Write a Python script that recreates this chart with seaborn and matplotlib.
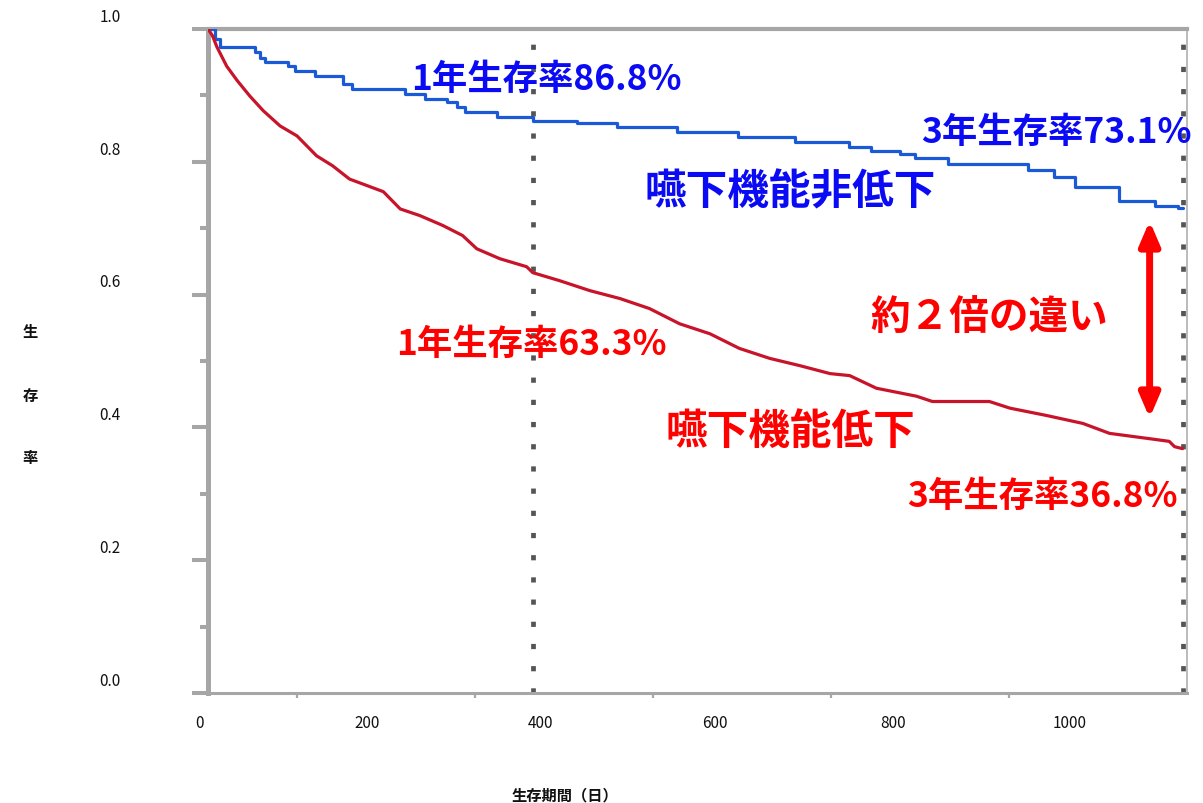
import matplotlib
matplotlib.use("Agg")
import matplotlib.pyplot as plt
import seaborn as sns
import pandas as pd

# ---------------- data ----------------
blue_days = [0, 8, 13, 53, 58, 64, 90, 98, 120, 152, 162, 221, 244, 268, 280, 289, 325,
             365, 415, 460, 527, 595, 660, 720, 745, 777, 794, 831, 921, 951, 974, 1024,
             1064, 1090, 1095]
blue_surv = [1.0, 0.985, 0.973, 0.965, 0.957, 0.950, 0.944, 0.937, 0.929, 0.917, 0.910,
             0.902, 0.895, 0.890, 0.883, 0.875, 0.868, 0.862, 0.858, 0.853, 0.845, 0.838,
             0.830, 0.822, 0.817, 0.812, 0.805, 0.797, 0.787, 0.777, 0.762, 0.741, 0.734,
             0.731, 0.731]

red_days = [0, 5, 10, 21, 33, 47, 62, 81, 100, 122, 140, 159, 179, 197, 216, 238, 264,
            286, 302, 328, 358, 365, 395, 429, 463, 496, 530, 564, 597, 631, 665, 699,
            721, 751, 796, 814, 878, 901, 942, 983, 1013, 1058, 1080, 1086, 1095]
red_surv = [1.0, 0.99, 0.973, 0.944, 0.922, 0.899, 0.877, 0.854, 0.839, 0.809, 0.794,
            0.774, 0.764, 0.755, 0.729, 0.719, 0.704, 0.689, 0.669, 0.654, 0.642, 0.633,
            0.621, 0.606, 0.594, 0.579, 0.556, 0.541, 0.519, 0.504, 0.493, 0.481, 0.478,
            0.459, 0.447, 0.439, 0.439, 0.429, 0.418, 0.406, 0.391, 0.383, 0.379, 0.371,
            0.368]

y_tick_values = [0.0, 0.2, 0.4, 0.6, 0.8, 1.0]
y_tick_labels = ["0.0", "0.2", "0.4", "0.6", "0.8", "1.0"]
x_label_positions = [-9, 179, 374, 570, 770, 968]
x_label_texts = ["0", "200", "400", "600", "800", "1000"]
x_minor_ticks = [100, 300, 500, 700, 900]
year_marks = [365, 1095]

df_blue = pd.DataFrame({"day": blue_days, "surv": blue_surv})
df_red = pd.DataFrame({"day": red_days, "surv": red_surv})

# ---------------- style ----------------
sns.set_style("white")
plt.rcParams["font.family"] = ["Noto Sans CJK JP", "DejaVu Sans"]

fig = plt.figure(figsize=(12.03, 8.04), dpi=100)
ax = fig.add_axes([0.1729, 0.1368, 0.8138, 0.8259])

BLUE_LINE = "#1a5ad7"
RED_LINE = "#c8142a"
BLUE_TXT = "#0a0af5"
RED_TXT = "#ff0000"
GRAY = "#a6a6a6"

for d in year_marks:
    ax.axvline(d, color="#555555", lw=3.4, linestyle=(0, (1.1, 3.6)),
               dash_capstyle="butt", zorder=1)

sns.lineplot(data=df_blue, x="day", y="surv", ax=ax, color=BLUE_LINE, lw=2.3,
             drawstyle="steps-post", zorder=3)
sns.lineplot(data=df_red, x="day", y="surv", ax=ax, color=RED_LINE, lw=2.3, zorder=3)

ax.set_xlim(0, 1100)
ax.set_ylim(0, 1.0)
ax.set_xlabel("")
ax.set_ylabel("")

# spines
for side, lw in [("left", 3.6), ("top", 3.0), ("bottom", 2.2), ("right", 1.3)]:
    ax.spines[side].set_visible(True)
    ax.spines[side].set_color(GRAY)
    ax.spines[side].set_linewidth(lw)
ax.spines["right"].set_color("#b5b5b5")

# y ticks
ax.set_yticks(y_tick_values)
ax.set_yticklabels([])
ax.set_yticks([0.1, 0.3, 0.5, 0.7, 0.9], minor=True)
ax.tick_params(axis="y", which="major", length=11.5, width=2.9, color=GRAY, direction="out", left=True)
ax.tick_params(axis="y", which="minor", length=5.8, width=2.9, color=GRAY, direction="out", left=True)

# x ticks
ax.set_xticks(x_minor_ticks)
ax.set_xticklabels([])
ax.tick_params(axis="x", which="major", length=3.6, width=1.6, color=GRAY, direction="out", bottom=True)

# tick labels placed where they appear in the reference
ytr = ax.get_yaxis_transform()
for v, lab in zip(y_tick_values, y_tick_labels):
    ax.text(-0.100, v + 0.019, lab, transform=ytr, ha="center", va="center",
            fontsize=11, color="#111111", clip_on=False)
xtr = ax.get_xaxis_transform()
for p, lab in zip(x_label_positions, x_label_texts):
    ax.text(p, -0.045, lab, transform=xtr, ha="center", va="center",
            fontsize=11, color="#111111", clip_on=False)

# axis titles
fig.text(0.4697, 0.011, "生存期間（日）", ha="center", va="center", fontsize=11,
         fontweight="bold", color="#111111")
for ch, yy in zip(["生", "存", "率"], [0.587, 0.507, 0.430]):
    fig.text(0.025, yy, ch, ha="center", va="center", fontsize=11,
             fontweight="bold", color="#111111")

# annotations
big = dict(fontweight="bold", ha="center", va="center", clip_on=False, zorder=5)
ax.text(380, 0.925, "1年生存率86.8%", color=BLUE_TXT, fontsize=25.5, **big)
ax.text(953, 0.845, "3年生存率73.1%", color=BLUE_TXT, fontsize=25.5, **big)
ax.text(654, 0.755, "嚥下機能非低下", color=BLUE_TXT, fontsize=30, **big)
ax.text(878, 0.567, "約２倍の違い", color=RED_TXT, fontsize=28.5, **big)
ax.text(363, 0.526, "1年生存率63.3%", color=RED_TXT, fontsize=25.5, **big)
ax.text(654, 0.394, "嚥下機能低下", color=RED_TXT, fontsize=30, **big)
ax.text(938, 0.298, "3年生存率36.8%", color=RED_TXT, fontsize=25.5, **big)

ax.annotate("", xy=(1058, 0.711), xytext=(1058, 0.414),
            arrowprops=dict(arrowstyle="<|-|>,head_length=1.4,head_width=0.6",
                            lw=5, color=RED_TXT, shrinkA=0, shrinkB=0))

fig.savefig("out.png", dpi=100)
